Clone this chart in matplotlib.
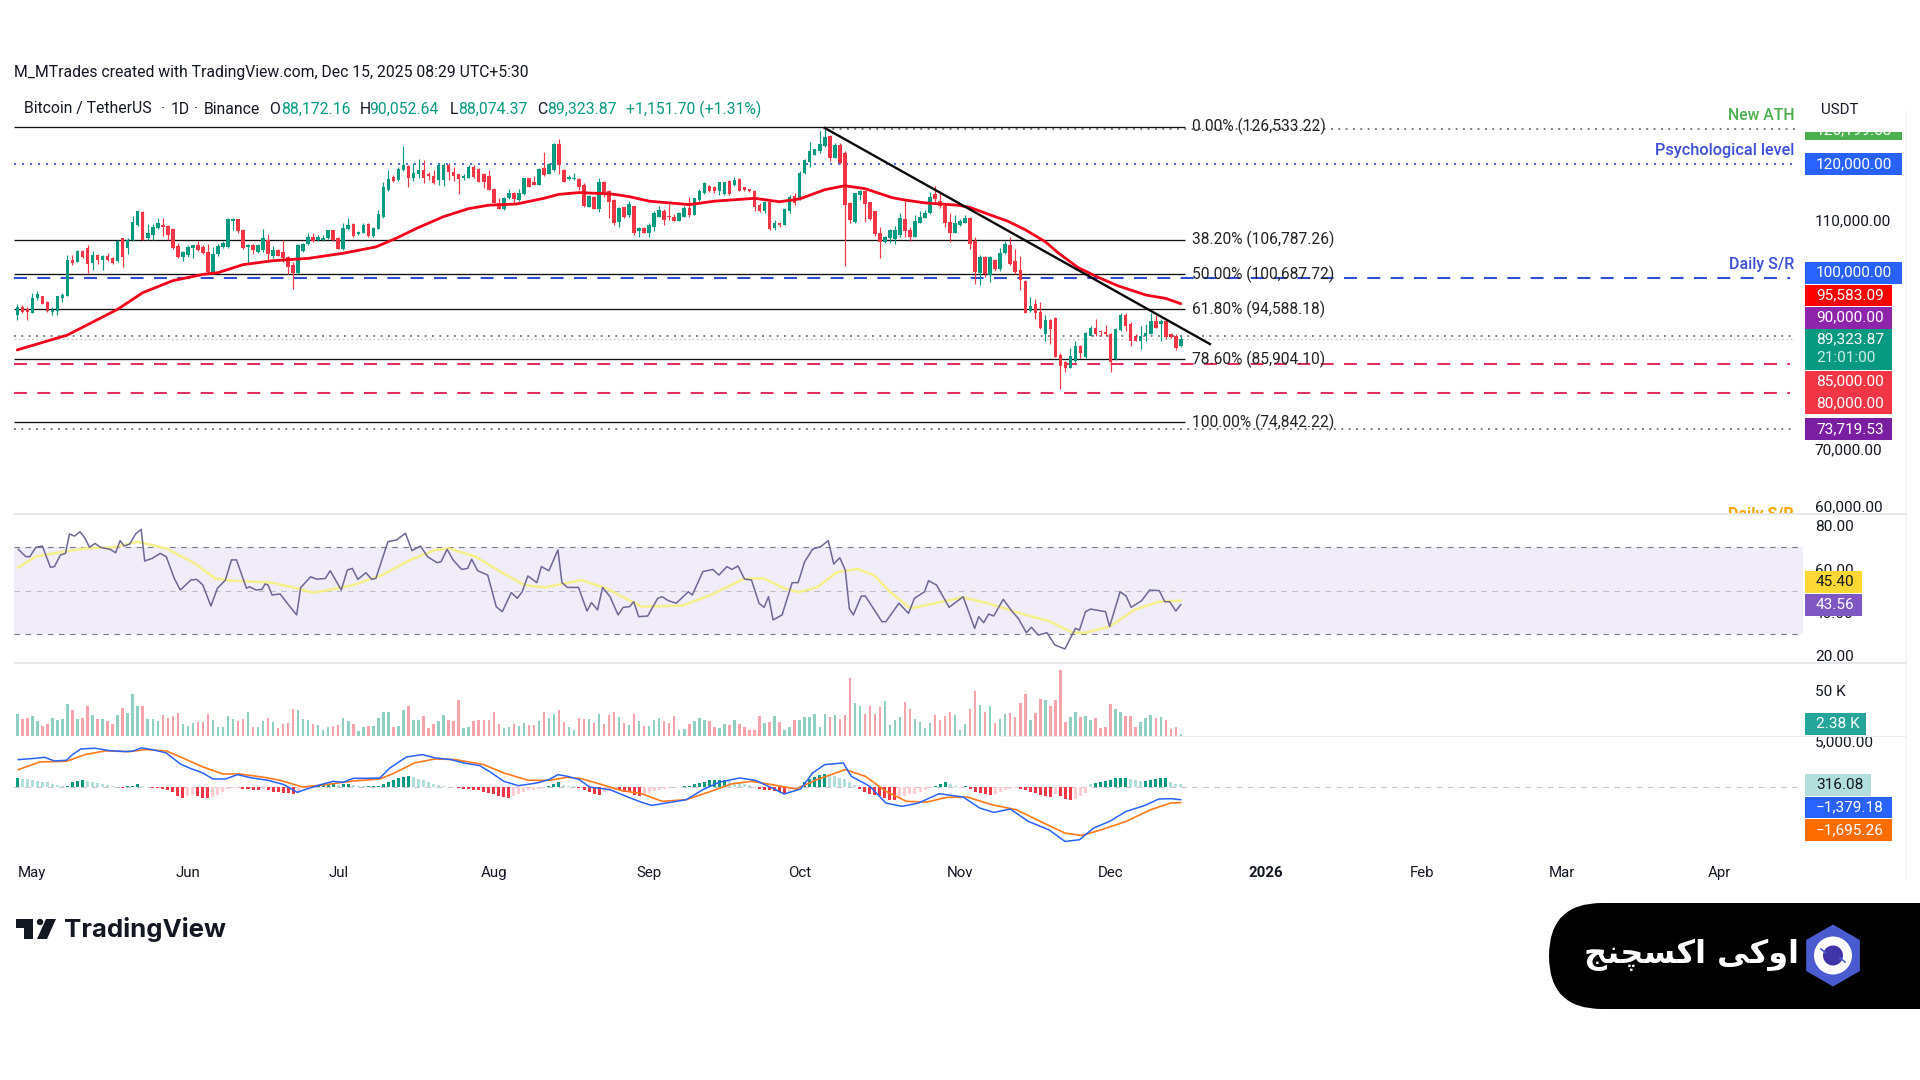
import numpy as np
import matplotlib
matplotlib.use("Agg")
import matplotlib.pyplot as plt
from matplotlib.patches import Rectangle, RegularPolygon, Circle, Polygon, FancyBboxPatch
from matplotlib.transforms import ScaledTranslation

plt.rcParams['font.family'] = ['Roboto', 'DejaVu Sans']

# 价格 (千 USDT)
opens = [93.6,95.0,94.7,94.0,96.5,96.9,95.9,94.2,94.3,96.6,96.9,103.3,102.9,104.8,105.4,102.7,104.1,103.3,103.9,103.5,
 103.0,107.0,105.4,106.7,109.3,111.6,107.0,107.6,108.8,109.4,109.1,108.7,105.6,103.8,104.1,105.4,105.8,105.5,104.7,101.2,
 104.2,105.5,105.5,110.0,110.3,108.5,105.5,105.9,104.7,105.0,106.7,104.0,105.0,104.7,103.8,102.4,100.9,104.8,106.0,107.3,
 106.7,106.8,107.0,108.4,107.1,105.2,108.6,109.5,107.7,108.0,109.5,107.4,108.7,110.7,115.4,117.7,117.2,118.9,119.7,117.5,
 118.3,118.9,118.2,117.9,117.2,117.2,119.8,118.6,118.2,117.5,117.6,119.5,119.2,118.3,117.9,115.7,113.2,112.2,114.0,115.0,
 113.7,114.7,117.5,116.9,116.3,119.3,118.3,118.9,123.5,118.9,117.3,117.3,117.3,116.3,112.5,114.2,112.2,116.9,115.2,113.7,
 109.9,112.4,111.0,112.7,108.2,108.8,108.0,109.0,110.8,111.8,110.9,110.8,110.0,110.8,112.3,111.1,113.7,114.9,116.2,116.0,
 115.3,114.8,117.0,116.3,117.4,115.9,115.6,115.3,112.8,111.8,113.4,108.8,109.6,109.3,111.7,114.4,113.9,118.4,120.4,121.6,
 122.2,123.2,124.9,121.1,123.4,121.9,113.1,109.9,114.5,115.3,113.3,111.7,108.0,106.3,107.0,106.9,107.5,110.4,108.4,107.3,
 109.7,110.5,111.4,114.7,113.6,112.7,109.8,108.0,109.4,109.7,110.5,106.6,101.0,103.8,100.6,103.2,101.6,104.4,105.9,103.0,
 101.5,99.6,94.3,95.5,94.2,90.3,92.8,93.0,86.6,85.3,84.4,85.5,88.2,86.2,90.0,91.4,90.8,90.7,90.3,85.9,
 91.0,93.6,92.0,90.0,89.1,89.9,90.3,92.6,92.1,92.5,90.2,90.0,88.17]
highs = [95.5,95.3,95.0,97.5,97.8,96.9,96.1,95.0,96.9,97.5,104.1,104.1,104.9,105.0,105.8,104.8,104.2,104.1,104.4,103.8,
 106.7,107.1,107.1,110.9,111.9,111.8,109.5,109.5,110.5,110.6,109.3,108.8,106.2,104.8,105.8,105.9,106.5,105.8,106.0,105.5,
 106.0,106.5,110.6,110.5,110.4,108.7,106.0,106.1,106.0,108.7,107.7,105.6,105.2,106.7,103.9,102.9,106.0,106.2,107.9,107.9,
 107.6,107.6,108.5,108.5,107.3,109.6,110.5,109.6,108.3,109.6,109.6,109.0,112.0,116.9,118.9,118.0,119.4,123.1,119.8,120.1,
 120.9,120.7,118.6,118.9,120.1,120.2,120.1,119.4,118.3,118.3,119.8,119.8,119.3,118.4,118.9,115.8,114.0,114.2,115.7,115.1,
 115.7,117.6,117.5,117.9,119.3,122.1,120.1,123.7,124.4,119.2,118.0,118.4,117.5,116.6,114.5,114.4,117.5,117.0,115.5,113.8,
 112.5,112.5,113.5,112.7,108.9,109.0,109.7,111.7,112.7,112.1,113.0,111.2,111.6,112.7,114.3,114.1,115.6,116.8,116.3,116.2,
 116.9,116.9,117.2,117.8,117.6,116.0,115.7,115.5,113.1,113.5,113.5,110.2,109.7,112.3,114.5,114.9,118.7,120.8,123.9,122.7,
 125.8,126.2,125.1,123.6,123.6,122.2,113.4,115.0,115.5,115.5,113.4,111.8,109.0,107.4,108.6,109.2,111.4,113.5,108.9,111.1,
 111.8,112.0,115.1,116.2,115.3,113.1,111.5,111.0,110.4,111.1,110.7,107.2,104.1,104.0,104.0,103.4,105.3,106.5,107.3,105.1,
 104.0,99.7,96.7,96.4,95.8,93.6,92.9,93.2,87.0,85.5,87.9,89.0,88.4,90.6,91.7,92.9,90.9,91.9,90.4,91.4,
 93.9,93.9,92.3,90.2,91.7,92.1,94.0,93.6,92.9,92.6,90.4,90.2,90.05]
lows = [92.8,93.9,92.8,93.9,96.2,95.5,94.2,93.6,93.6,95.9,96.9,102.3,102.8,103.6,100.9,101.5,102.6,101.5,103.1,102.6,
 102.9,102.0,104.2,106.5,109.2,106.7,106.8,106.7,108.7,107.4,106.7,105.2,103.6,103.0,103.8,103.6,104.8,104.2,101.0,101.0,
 103.9,105.4,105.4,108.5,108.0,105.2,102.7,104.2,104.5,104.7,103.3,103.5,103.9,102.9,100.7,98.2,100.7,104.7,105.8,106.4,
 106.6,106.6,106.9,106.6,105.1,104.9,108.5,107.3,107.6,107.9,107.3,107.3,108.6,110.5,115.3,116.9,117.0,118.8,115.9,117.0,
 117.5,116.7,117.2,116.5,116.3,116.2,117.2,117.0,114.7,117.2,117.5,117.6,116.9,115.8,115.4,113.1,112.1,111.9,113.9,113.2,
 113.6,114.5,115.9,116.3,116.3,117.9,118.2,118.8,118.3,116.8,117.2,117.2,115.5,112.4,112.4,112.1,111.6,114.2,110.6,109.4,
 108.9,110.6,110.8,107.5,107.3,107.9,107.3,108.3,110.7,109.3,110.2,110.0,110.0,110.7,110.8,111.0,113.6,114.7,115.1,115.0,
 114.5,114.6,114.6,116.2,115.2,115.3,115.1,111.7,111.6,111.4,108.5,108.5,109.0,109.3,111.5,112.8,113.7,118.2,119.5,121.5,
 122.0,123.0,120.5,121.0,120.0,102.2,109.6,109.6,113.7,109.9,110.2,107.4,103.6,106.2,106.2,106.1,107.3,107.3,106.6,107.3,
 109.6,110.5,111.3,113.3,112.3,109.0,106.3,107.9,109.2,109.6,105.2,99.0,98.9,100.2,99.3,101.3,101.3,104.2,102.4,100.8,
 97.9,93.9,94.2,92.9,91.1,89.1,88.5,86.2,80.7,83.6,84.3,85.4,86.0,86.1,89.9,89.9,89.9,89.9,83.6,85.8,
 90.8,90.8,88.1,89.0,87.6,89.1,90.2,91.3,89.1,89.4,89.6,87.5,88.07]
closes = [95.0,94.2,94.2,96.5,97.2,95.6,94.3,94.5,96.9,97.1,103.2,102.7,104.8,103.8,102.6,104.1,103.3,103.9,103.2,102.7,
 106.5,103.8,106.8,109.9,111.7,106.8,107.9,109.0,109.6,109.0,107.6,105.4,103.8,104.7,105.5,105.8,104.9,104.4,101.2,104.2,
 105.7,106.2,110.3,110.3,108.2,105.4,105.9,104.9,105.8,107.0,104.2,105.0,104.0,103.6,102.0,100.9,105.8,106.1,107.3,106.6,
 107.2,107.1,108.4,106.7,105.2,108.8,109.4,107.4,108.1,109.3,107.4,108.8,111.2,116.0,117.3,117.0,119.2,119.8,117.5,118.5,
 119.0,117.5,117.9,116.7,119.9,119.9,118.6,117.9,117.4,117.9,119.5,117.7,116.9,116.9,115.5,113.2,112.2,114.0,115.0,113.8,
 115.0,117.5,116.0,116.3,119.2,118.0,120.0,123.5,119.8,116.9,117.7,117.5,115.9,112.6,114.4,112.2,116.9,114.8,113.3,109.6,
 112.3,110.8,113.0,108.0,108.8,108.0,109.4,111.5,112.0,110.2,110.7,110.1,111.4,112.3,111.0,114.0,115.3,116.6,115.2,115.2,
 116.8,116.8,114.8,117.2,115.3,115.5,115.2,112.4,111.8,113.4,108.6,109.6,109.4,112.1,114.3,113.1,118.5,120.7,122.3,122.6,
 123.5,124.8,121.0,123.4,120.1,112.8,110.2,114.9,115.3,113.0,110.4,107.7,106.3,107.3,108.5,108.4,110.5,108.3,107.3,110.0,
 110.8,111.5,114.3,113.9,112.6,109.6,108.0,109.6,110.0,110.5,106.1,101.2,103.8,100.8,103.8,101.6,104.5,106.0,102.6,101.2,
 99.7,94.0,95.2,94.0,91.3,92.8,91.1,86.3,84.7,84.4,86.5,88.2,87.0,90.4,91.4,90.3,90.7,90.3,85.3,91.2,
 93.6,91.7,89.1,89.1,90.0,90.4,92.5,91.4,92.5,89.7,89.7,87.9,89.32]

ma_idx = [0,10,20,25,31,37,40,45,51,58,65,71.5,75.5,80,85,90,94,99.5,105,108,112,117.5,119,122,126,134,139,147,152,156,161,165,169,174.5,177,181,187.5,190,194,197.5,201,205,207.5,211.5,215.5,219.5,225,229,232]
ma_vals = [87.5,90.1,94.6,97.5,99.6,100.7,101.0,102.4,103.1,103.5,104.4,105.5,107.0,108.9,110.8,112.2,112.8,113.0,114.0,114.7,115.0,114.8,114.7,114.3,113.5,112.9,113.5,114.0,113.4,113.9,115.5,116.2,115.7,114.1,113.7,113.2,112.8,112.4,111.1,110.0,108.5,106.4,104.5,101.9,100.2,98.7,97.1,96.5,95.583]

rsi_idx = [0.2,1.7,2.5,3.7,5,6.6,7.4,8.6,9.6,10.4,11.4,12.5,13.5,14.4,15.5,16.6,18.5,19.6,20.5,21.3,22.4,23.6,24.7,25.4,26.9,28.5,29.7,31.3,32.5,34.6,35.8,37,38.6,39.9,41.5,42.7,43.7,45.7,46.3,47.6,48.8,49.4,50,50.8,52.4,54.1,55.7,56.5,58.5,59.7,61.4,62.4,64.6,65.8,66.8,67.9,69.5,70.7,71.5,73.9,75.6,77.4,78.7,80.4,81.8,83.7,84.5,85.7,86.9,88.6,89.8,90.6,91.8,93.8,95.5,96.7,98.5,99.7,100.7,101.8,103.6,104.5,106,107.8,108.6,109.7,111.9,113.6,114.5,115.7,116.7,118.2,119.8,120.8,122.1,122.9,123.9,
 125.7,127.7,128.6,129.8,131.4,133.8,134.6,136.7,138.7,139.9,141.5,142.5,143.7,145,146.4,147.9,148.9,149.8,150.7,152.5,154.5,155.7,157,158.6,160.2,161.7,162.8,164,165.1,165.9,166.7,168.3,169.1,172.4,173.2,175.8,177.7,178.9,180.9,181.7,183.3,185.8,188.6,190.9,191.7,192.7,193.7,194.7,196.6,198.4,199.6,201.2,202.2,203.6,205.3,206.9,208.9,211,211.8,213,214,217,217.8,219.9,221.1,222.1,224.2,225.8,227.7,228.8,229.8,231,232]
rsi_vals = [69.1,65.7,65.7,70,70.6,60.8,61.1,66.5,67.2,76.2,75.2,77.2,74.2,70,71.8,70,69.1,67.5,73.1,70.6,71.5,76.2,78.3,63.7,64.9,67.2,65.7,55.7,50.3,54.9,55.2,52.6,42.9,51.1,54.9,64.2,64.2,51.1,51.8,50.3,50.6,53.1,52.6,48,48.5,43.4,38.8,51.4,56.4,55.3,55.6,59.2,50.3,59.5,60.3,55.2,58.3,55.2,55.7,72.6,73.4,76.5,68.5,70.6,65.7,62.9,63.4,69.1,64.2,59.8,60.3,64.5,59.2,57.2,42.6,40.3,49.1,46.5,49.6,56.8,53.7,61.1,59.2,68.8,53.7,51.5,51.5,40.6,44.5,41.1,51.5,47.2,38.8,42.3,42.6,44.9,38,
 38.3,46.5,47.2,45.4,44.2,49.5,48,58.8,59.8,57.2,61.1,59.8,61.4,55.4,54.9,44.2,42.3,47.2,36.5,38.8,53.7,53.7,63.4,69.2,70.3,73.1,62.3,65.2,59.5,41.8,38.8,47.5,47.5,35.7,35.7,44.2,39.5,46.5,49.5,54.6,52.6,42.3,47.2,32.6,38,35.2,39.2,38.3,46,40.3,37.2,30.6,33.1,29.5,30.6,24.9,23.1,32.6,31.8,40.3,41.5,40.3,33.4,49.5,47.5,42.3,45.4,50.3,50,44.9,44.9,40.6,43.56]
rsi_ma_idx = [0.2,3.7,7,13.5,19.2,24,29.7,35.4,39.4,42.7,50.8,55.7,58.9,62.2,67,72.7,78.4,83.3,86.1,91.4,96.3,101.1,105.2,112.5,117.4,124.5,132.6,138.3,144.8,148.9,152.9,155.8,159.4,163.5,167.5,170.8,174,178.1,183,188.6,193.5,200,205.7,210.5,213,217.8,222.7,227.6,232]
rsi_ma_vals = [60.8,65.7,67.2,69.5,70,72.6,69.5,62.6,55.7,54.6,53.7,51.1,49.1,50.3,52.6,57.2,64.2,68.8,69.5,65.7,58.8,52.6,51.5,54.9,51.1,42.6,43.1,48,55.4,55.7,51.1,49.3,51.5,58.5,60,57.2,49.5,41.8,44.2,46.9,44.2,39.5,36,30.6,30.6,33.4,41.1,44.9,45.4]

# 成交量 (K)
volumes = [24,19,20,22,17,11,13,20,18,19,36,29,19,20,33,23,19,19,17,13,23,31,26,47,33,33,19,19,17,23,
 20,22,25,13,11,14,15,16,24,18,10,10,22,19,17,19,27,10,10,17,20,16,9,13,14,30,29,19,18,13,
 12,7,10,11,12,20,17,13,5,10,11,11,20,27,27,10,11,29,33,18,18,22,9,13,17,23,18,17,40,9,
 10,17,18,18,18,27,13,9,10,13,11,14,12,12,17,27,20,24,29,16,10,7,20,19,19,14,24,13,23,27,21,14,12,24,17,
 11,11,18,20,17,14,22,7,8,13,17,20,18,17,10,9,13,12,18,13,10,7,7,22,14,15,22,16,7,10,
 18,18,21,21,24,10,24,21,23,19,23,64,37,33,24,33,24,32,39,12,18,21,38,30,19,16,9,14,23,18,
 22,27,23,7,13,30,50,34,27,33,14,19,24,25,21,37,47,18,25,41,40,33,40,73,16,21,27,21,22,18,
 20,9,10,36,30,27,22,22,10,16,20,23,20,21,18,8,10,2.38]

macd_idx = [0.2,3.7,5.4,7.4,9.8,11,12.7,15.5,18.3,21.6,23.2,24.7,26.9,29.7,32.5,34.6,37,39,41.5,43.9,46.8,50,53.2,55.8,57.7,60.5,63,65,67,69.5,72.3,74.3,77.6,80.8,83.3,86.5,89,92.2,94.6,97,99.9,103.6,106,107.8,109.7,112.1,114.1,118.2,121.4,124.5,126.5,129.4,133.4,136.7,139.9,144,147.2,150.5,152.9,156.2,158.6,161,164.7,166.3,170,173.2,176.4,179.7,183.8,188.6,191.9,194.7,198,201.6,205.7,208.9,211.8,214.6,217.8,221.1,224.7,227.6,230,232]
macd_vals = [2977,3122,3231,2831,2904,3521,4138,4211,3957,3848,3920,4247,4066,3703,2505,1997,1525,871,871,1343,980,726,254,-581,-218,254,617,508,944,944,980,2069,3267,3521,3158,2977,2614,2323,1525,617,145,436,799,1343,1162,799,0,-290,-1016,-1670,-1997,-1742,-1379,-290,508,980,726,-109,-762,-218,1525,2432,2614,1162,73,-1742,-2105,-1742,-726,-1089,-2287,-2759,-2396,-3739,-4646,-5917,-5735,-4465,-3739,-2650,-2033,-1307,-1271,-1379.18]
signal_idx = [0.2,4.5,9.8,13.5,17.5,22.4,25.6,29.7,33,37,41,44.3,49.2,52.4,56.9,61.4,67,72.3,75.2,79.2,83.3,87.3,93,97,101.9,106,109.7,112.5,116.6,120.6,124.5,128.6,133.4,138.3,142.4,146.4,150.5,155.3,159.4,165.1,169.1,173.2,177.3,181.3,185.4,189.4,194.3,199.2,204,208.9,212.2,216.2,221.1,226,230,232]
signal_vals = [1888,2723,2795,3521,3920,3848,4066,3920,3158,2178,1416,1416,1053,726,0,254,653,871,1525,2614,3049,2977,2432,1525,726,726,1053,908,254,-399,-726,-1561,-1379,-472,327,617,254,-218,799,1888,1162,-472,-1561,-1634,-1125,-1089,-1924,-2468,-3739,-5009,-5264,-4646,-3739,-2468,-1742,-1695.26]
hist_vals = [1016,908,871,726,653,581,508,363,218,109,109,508,653,726,653,545,436,290,182,109,36,-73,109,109,327,145,36,
 -109,-109,-218,-363,-581,-1016,-1162,-1016,-871,-1016,-1162,-1162,-1089,-908,-545,-218,-109,-73,-182,-254,-290,-290,-218,-363,-508,-545,-617,-653,-799,-653,-145,
 73,109,182,218,290,327,218,290,363,218,109,73,73,109,145,290,508,726,944,1089,1162,1089,908,799,545,363,218,109,36,0,
 -109,-182,-254,-290,-363,-508,-653,-799,-944,-1089,-1162,-1016,-799,-545,-363,-290,-182,-109,145,290,581,218,145,73,
 -73,-290,-508,-726,-871,-545,-436,-363,-363,-508,-581,-908,-1016,-871,-653,-436,-290,-182,-109,-36,36,
 73,145,290,436,581,726,726,726,726,653,545,436,290,182,-73,-218,-290,-363,-436,-581,-726,-508,-218,
 145,508,908,1089,1270,1379,1270,1162,1016,908,545,182,-182,-545,-726,-871,-1016,-1162,-1379,-1452,-1162,-944,-799,-726,-545,-290,-73,
 109,363,508,290,109,-73,73,-182,-508,-653,-799,-871,-726,-508,-363,-218,-109,-182,-363,-545,-653,-871,-1016,-1089,-799,-1016,-1270,-1379,-1270,-1016,-653,
 290,436,545,653,799,944,1016,1016,908,726,653,653,799,871,944,944,545,363,316.08]

fib_levels = [126533.22,106787.26,100687.72,94588.18,85904.10,74842.22]
fib_names = ['0.00% (126,533.22)','38.20% (106,787.26)','50.00% (100,687.72)','61.80% (94,588.18)','78.60% (85,904.10)','100.00% (74,842.22)']
month_pos = [3,34,64,95,126,156,188,218,249,280,308,339.5]
month_names = ['May','Jun','Jul','Aug','Sep','Oct','Nov','Dec','2026','Feb','Mar','Apr']

UP = '#089981'
DOWN = '#f23645'
TXT = '#131722'
W, H = 1920, 1080

fig = plt.figure(figsize=(19.2, 10.8), dpi=100, facecolor='white')


def pane(y0, y1):
    # y0, y1 是从上往下的像素
    ax = fig.add_axes([14 / W, 1 - y1 / H, (1803 - 14) / W, (y1 - y0) / H])
    ax.patch.set_alpha(0)
    for s in ax.spines.values():
        s.set_visible(False)
    ax.set_xlim(-0.66, 356.07)
    ax.set_xticks([])
    ax.yaxis.tick_right()
    ax.tick_params(axis='y', length=0, pad=8.5, labelsize=11.1, labelcolor=TXT)
    return ax


x = np.arange(len(closes))
o = np.array(opens) * 1000
h = np.array(highs) * 1000
l = np.array(lows) * 1000
c = np.array(closes) * 1000
up = c >= o
cols = np.where(up, UP, DOWN)

# 主图
ax_p = pane(120, 514)
ax_p.set_ylim(58811, 127692)
ax_p.set_yticks([110000, 70000, 60000], ['110,000.00', '70,000.00', '60,000.00'])
for t in ax_p.get_yticklabels():
    t.set_transform(t.get_transform() + ScaledTranslation(0, 1.3 / 100, fig.dpi_scale_trans))

fib_end = 232.9
ax_p.hlines(fib_levels, -0.66, fib_end, color='#111111', lw=0.95, zorder=4)
ax_p.hlines([120000], -0.66, 354.5, color='#3d4fd6', lw=1.2, linestyle=(0, (1.2, 3.6)), zorder=2)
ax_p.hlines([126199.63], 161, 354.5, color='#555555', lw=1.1, linestyle=(0, (1.2, 3.6)), zorder=2)
ax_p.hlines([90000], -0.66, 354.5, color='#5a5a66', lw=1.1, linestyle=(0, (1.2, 3.6)), zorder=2)
ax_p.hlines([89323.87], -0.66, 354.5, color='#c8cad0', lw=0.9, linestyle=(0, (1.5, 2)), zorder=1)
ax_p.hlines([73719.53], -0.66, 354.5, color='#5a4a70', lw=1.1, linestyle=(0, (1.2, 3.6)), zorder=2)
ax_p.hlines([100000], -0.66, 353.5, color='#2f4fd0', lw=1.5, linestyle=(0, (6.2, 5)), zorder=3)
ax_p.hlines([85000, 80000], -0.66, 353.5, color='#e0305f', lw=1.5, linestyle=(0, (6.2, 5)), zorder=3)

ax_p.vlines(x, l, h, color=cols, lw=0.85, zorder=5)
ax_p.bar(x, np.abs(c - o), bottom=np.minimum(o, c), width=0.72, color=cols, linewidth=0, zorder=6)
ax_p.plot(ma_idx, np.array(ma_vals) * 1000, color='#f5001a', lw=2.0, zorder=7, solid_capstyle='round')
ax_p.plot([161, 237.8], [126300, 88531], color='#0a0a0a', lw=1.7, zorder=8)
ax_p.text(354.3, 59950, 'Daily S/R', color='#f5a800', fontsize=11.5, fontweight='bold', ha='right', va='top',
          clip_on=True, zorder=9)
for lev, name in zip(fib_levels, fib_names):
    ax_p.text(234.2, lev, name, color='#222222', fontsize=11.2, va='center', zorder=9)

# RSI
ax_r = pane(514, 663)
ax_r.set_ylim(16.6, 85.4)
ax_r.set_yticks([80, 60, 40, 20], ['80.00', '60.00', '40.00', '20.00'])
ax_r.axhspan(30, 70, color='#f0ecf8', lw=0, zorder=1)
ax_r.hlines([70, 30], -0.66, 356, color='#787b86', lw=0.8, linestyle=(0, (5, 5)), zorder=2)
ax_r.hlines([50], -0.66, 356, color='#bdbdc7', lw=0.8, linestyle=(0, (5, 5)), zorder=2)
ax_r.plot(rsi_ma_idx, rsi_ma_vals, color='#f6f08c', lw=1.8, zorder=3)
ax_r.plot(rsi_idx, rsi_vals, color='#6d6794', lw=1.1, zorder=4)

# 成交量
ax_v = pane(663, 736)
ax_v.set_ylim(0, 81100)
ax_v.set_yticks([50000], ['50 K'])
v_cols = np.where(up, '#8fd0c2', '#f7a3ab')
ax_v.bar(x, np.array(volumes) * 1000, width=0.48, color=v_cols, linewidth=0)

# MACD
ax_m = pane(736, 860)
ax_m.set_ylim(-7935, 5543)
ax_m.set_yticks([5000], ['5,000.00'])
ax_m.hlines([0], -0.66, 356, color='#c4c6cc', lw=0.8, linestyle=(0, (5, 5)), zorder=1)
hist = np.array(hist_vals)
grow = np.abs(hist) >= np.abs(np.r_[hist[0], hist[:-1]])
h_cols = []
for val, g in zip(hist, grow):
    if val >= 0:
        h_cols.append('#089981' if g else '#b2dfdb')
    else:
        h_cols.append('#f23645' if g else '#ffcdd2')
ax_m.bar(x, hist, width=0.6, color=h_cols, linewidth=0, zorder=2)
ax_m.plot(signal_idx, signal_vals, color='#ff7a1a', lw=1.2, zorder=3)
ax_m.plot(macd_idx, macd_vals, color='#2962ff', lw=1.1, zorder=4)
ax_m.set_xticks(month_pos, month_names)
ax_m.tick_params(axis='x', length=0, pad=4, labelsize=10.8, labelcolor=TXT)
ax_m.get_xticklabels()[8].set_fontweight('bold')

# 覆盖层: 文字, 标签, 标志 (像素坐标)
ov = fig.add_axes([0, 0, 1, 1])
ov.set_xlim(0, W)
ov.set_ylim(H, 0)
ov.axis('off')
ov.patch.set_alpha(0)

ov.hlines([514], 14, 1906, color='#e2e3e8', lw=1.2)
ov.hlines([663], 14, 1906, color='#e2e3e8', lw=1.2)
ov.hlines([736], 1000, 1906, color='#eceef2', lw=0.8)
ov.vlines([1906], 110, 880, color='#f2f3f5', lw=0.8)

ov.text(14, 73, 'M_MTrades created with TradingView.com, Dec 15, 2025 08:29 UTC+5:30', fontsize=11.3, color=TXT, va='center')
for lx, t in [(24, 'Bitcoin / TetherUS'), (161, '·'), (171, '1D'), (194, '·'), (204, 'Binance')]:
    ov.text(lx, 109, t, fontsize=11.3, color=TXT, va='center')
for lx, t, vx, val in [(269, 'O', 281, '88,172.16'), (360, 'H', 369.5, '90,052.64'),
                       (450, 'L', 458, '88,074.37'), (537, 'C', 547, '89,323.87')]:
    ov.text(lx, 109, t, fontsize=11.3, color=TXT, va='center')
    ov.text(vx, 109, val, fontsize=11.3, color=UP, va='center')
ov.text(626.5, 109, '+1,151.70 (+1.31%)', fontsize=11.3, color=UP, va='center')
ov.text(1821, 110, 'USDT', fontsize=10.8, color=TXT, va='center')

ov.text(1794, 115, 'New ATH', fontsize=11.3, color='#4caf50', fontweight='medium', ha='right', va='center')
ov.text(1794, 150, 'Psychological level', fontsize=11.7, color='#3d4fd6', fontweight='medium', ha='right', va='center')
ov.text(1794, 264, 'Daily S/R', fontsize=11.5, color='#3d4fd6', fontweight='medium', ha='right', va='center')


def tag(x0, x1, y0, y1, color, label, tc='white', fs=11.1):
    ov.add_patch(Rectangle((x0, y0), x1 - x0, y1 - y0, facecolor=color, edgecolor='none', zorder=5))
    ov.text(x0 + 11, (y0 + y1) / 2, label, color=tc, fontsize=fs, va='center', zorder=6)


# 顶部被裁切的绿色标签
ov.add_patch(Rectangle((1805, 131.7), 97, 8.3, facecolor='#4caf50', edgecolor='none', zorder=5))
ath = ov.text(1816, 130, '126,199.63', color='white', fontsize=11.1, va='center', zorder=6)
ath.set_clip_path(Rectangle((1805, 131.7), 97, 8.3, transform=ov.transData))

tag(1805, 1902, 153, 175, '#2962ff', '120,000.00')
tag(1805, 1902, 262, 283.5, '#2962ff', '100,000.00')
tag(1805, 1892, 284.5, 306, '#ff0000', '95,583.09')
tag(1805, 1892, 307, 328.5, '#8e24aa', '90,000.00')
ov.add_patch(Rectangle((1805, 329), 87, 41, facecolor='#089981', edgecolor='none', zorder=5))
ov.text(1816, 339.5, '89,323.87', color='white', fontsize=11.1, va='center', zorder=6)
ov.text(1816, 358, '21:01:00', color='#c8efe6', fontsize=11.1, va='center', zorder=6)
tag(1805, 1892, 370.5, 392, '#f23645', '85,000.00')
tag(1805, 1892, 392, 414, '#f23645', '80,000.00')
tag(1805, 1892, 418, 440, '#7b1fa2', '73,719.53')
tag(1805, 1862, 571, 593, '#fdd835', '45.40', tc=TXT)
tag(1805, 1862, 594, 616, '#7e57c2', '43.56')
tag(1805, 1866, 713, 735, '#26a69a', '2.38 K')
tag(1805, 1871, 774, 796, '#b2dfdb', '316.08', tc=TXT)
tag(1805, 1892, 797, 818, '#2962ff', '\u22121,379.18')
tag(1805, 1892, 819, 841, '#ff6d00', '\u22121,695.26')

# TradingView 标志
ov.add_patch(Polygon([(16, 919), (33, 919), (33, 939), (24, 939), (24, 928), (16, 928)], facecolor='#131722', edgecolor='none'))
ov.add_patch(Circle((40, 922), 3.2, facecolor='#131722', edgecolor='none'))
ov.add_patch(Polygon([(46, 919), (56, 919), (47, 939), (37, 939)], facecolor='#131722', edgecolor='none'))
ov.text(64, 930, 'TradingView', fontsize=18.6, fontweight='bold', family='Inter', color='#131722', va='center')

# 右下角徽标
ov.add_patch(FancyBboxPatch((1549, 903), 500, 106, boxstyle='round,pad=0,rounding_size=53', facecolor='black', edgecolor='none', zorder=7))
ov.add_patch(RegularPolygon((1833, 955.5), 6, radius=31, facecolor='#4a5bd0', edgecolor='none', zorder=8))
ov.add_patch(Circle((1833, 955.5), 19, facecolor='white', edgecolor='none', zorder=9))
ov.add_patch(Circle((1833, 955.5), 10, facecolor='#3f35a8', edgecolor='none', zorder=10))
ov.plot([1821, 1826], [949, 953], color='#4a5bd0', lw=1.2, zorder=10)
ov.plot([1840, 1845], [958, 962], color='#4a5bd0', lw=1.2, zorder=10)
ov.text(1692, 955, '\uFE9E\uFEE8\uFB7D\uFEB4\uFB90\uFE8D \uFBFD\uFB90\uFEED\uFE8D', fontsize=23, fontweight='bold', family='DejaVu Sans',
        color='white', ha='center', va='center', zorder=9)

fig.savefig('out.png', dpi=100)
